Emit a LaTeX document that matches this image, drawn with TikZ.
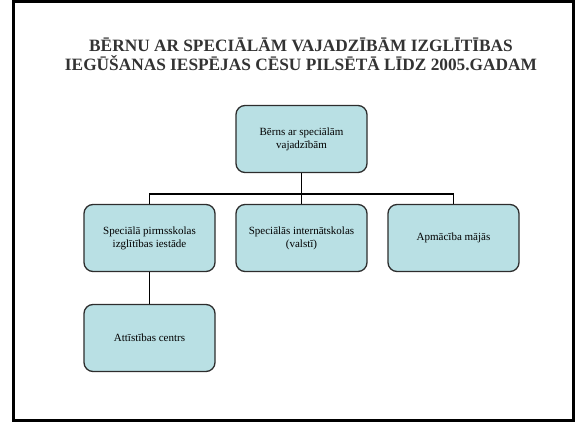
\documentclass[tikz,border=0pt]{standalone}
\usepackage{fontspec}
\setmainfont{Liberation Serif}
\definecolor{boxfill}{RGB}{185,224,228}
\definecolor{boxline}{RGB}{45,45,45}
\tikzset{
  orgbox/.style={draw=boxline, line width=1.3pt, fill=boxfill, rounded corners=9pt,
    minimum width=131pt, minimum height=67pt, align=center, font=\fontsize{11}{13}\selectfont},
  link/.style={draw=black, line width=1.6pt}
}
\begin{document}
\begin{tikzpicture}[x=1pt,y=-1pt]
      \useasboundingbox (0,0) rectangle (576,422);
      \draw[line width=3pt] (13,1.5) rectangle (573.5,420.5);
      \node[font=\bfseries\fontsize{17.3}{19}\selectfont, text=black!80, align=center] (title) at (301,54)
        {BĒRNU AR SPECIĀLĀM VAJADZĪBĀM IZGLĪTĪBAS\\IEGŪŠANAS IESPĒJAS CĒSU PILSĒTĀ LĪDZ 2005.GADAM};
      \draw
        (301.5,139) node[orgbox] (0){Bērns ar speciālām\\vajadzībām}
        (149.5,238) node[orgbox] (1){Speciālā pirmsskolas\\izglītības iestāde}
        (301.5,238) node[orgbox] (2){Speciālās internātskolas\\(valstī)}
        (453.5,238) node[orgbox] (3){Apmācība mājās}
        (149.5,338) node[orgbox] (4){Attīstības centrs};
      \coordinate (j) at (301.5,194);
      \begin{scope}[link]
        \draw (0) to (j);
        \draw (j) -| (1);
        \draw (j) to (2);
        \draw (j) -| (3);
        \draw (1) to (4);
      \end{scope}
    \end{tikzpicture}
\end{document}
